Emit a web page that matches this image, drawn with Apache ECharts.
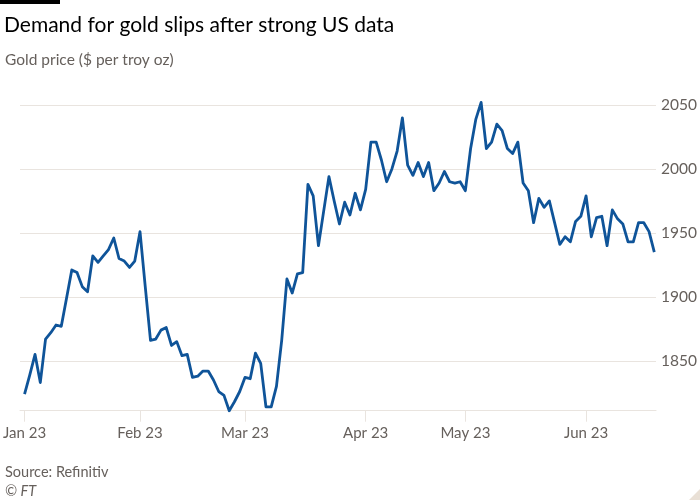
<!DOCTYPE html>
<html>
<head>
<meta charset="utf-8">
<script src="https://cdn.jsdelivr.net/npm/echarts@6/dist/echarts.min.js"></script>
<style>
html,body{margin:0;padding:0;background:#fff;}
#chart{width:700px;height:500px;}
</style>
</head>
<body>
<div id="chart"></div>
<script>
// Trading days (categories)
const dates = [
"2023-01-02","2023-01-03","2023-01-04","2023-01-05","2023-01-06","2023-01-09","2023-01-10","2023-01-11","2023-01-12","2023-01-13","2023-01-16","2023-01-17","2023-01-18","2023-01-19","2023-01-20","2023-01-23","2023-01-24","2023-01-25","2023-01-26","2023-01-27","2023-01-30","2023-01-31",
"2023-02-01","2023-02-02","2023-02-03","2023-02-06","2023-02-07","2023-02-08","2023-02-09","2023-02-10","2023-02-13","2023-02-14","2023-02-15","2023-02-16","2023-02-17","2023-02-20","2023-02-21","2023-02-22","2023-02-23","2023-02-24","2023-02-27","2023-02-28",
"2023-03-01","2023-03-02","2023-03-03","2023-03-06","2023-03-07","2023-03-08","2023-03-09","2023-03-10","2023-03-13","2023-03-14","2023-03-15","2023-03-16","2023-03-17","2023-03-20","2023-03-21","2023-03-22","2023-03-23","2023-03-24","2023-03-27","2023-03-28","2023-03-29","2023-03-30","2023-03-31",
"2023-04-03","2023-04-04","2023-04-05","2023-04-06","2023-04-10","2023-04-11","2023-04-12","2023-04-13","2023-04-14","2023-04-17","2023-04-18","2023-04-19","2023-04-20","2023-04-21","2023-04-24","2023-04-25","2023-04-26","2023-04-27","2023-04-28",
"2023-05-01","2023-05-02","2023-05-03","2023-05-04","2023-05-05","2023-05-08","2023-05-09","2023-05-10","2023-05-11","2023-05-12","2023-05-15","2023-05-16","2023-05-17","2023-05-18","2023-05-19","2023-05-22","2023-05-23","2023-05-24","2023-05-25","2023-05-26","2023-05-29","2023-05-30","2023-05-31",
"2023-06-01","2023-06-02","2023-06-05","2023-06-06","2023-06-07","2023-06-08","2023-06-09","2023-06-12","2023-06-13","2023-06-14","2023-06-15","2023-06-16","2023-06-19","2023-06-20"
];

// Gold price ($ per troy oz)
const goldPrice = [
1824,1839,1855,1833,1867,1872,1878,1877,1899,1921,1919,1908,1904,1932,1927,1932,1937,1946,1930,1928,1923,1928,
1951,1908,1866,1867,1874,1876,1862,1865,1854,1855,1837,1838,1842,1842,1835,1826,1823,1811,1818,1826,
1837,1836,1856,1848,1814,1814,1830,1866,1914,1903,1918,1919,1988,1979,1940,1967,1994,1975,1957,1974,1964,1981,1968,
1984,2021,2021,2007,1990,2000,2014,2040,2003,1995,2005,1994,2005,1983,1989,1998,1990,1989,1990,
1983,2016,2039,2052,2016,2021,2035,2030,2016,2012,2021,1989,1983,1958,1977,1970,1975,1958,1941,1947,1943,1959,1963,
1979,1947,1962,1963,1940,1968,1961,1957,1943,1943,1958,1958,1951,1935
];

// Axis tick labels
const monthLabels = ["Jan 23","Feb 23","Mar 23","Apr 23","May 23","Jun 23"];
const yTickValues = [1850,1900,1950,2000,2050];

const FONT = "Lato, 'Open Sans', sans-serif";
const GRID_COLOR = "#e9e4df";
const TEXT_GREY = "#66605c";

function isMonthStart(i){
  if (i === 0) return true;
  return dates[i].slice(5,7) !== dates[i-1].slice(5,7);
}

const chart = echarts.init(document.getElementById('chart'), null, {renderer:'canvas'});
const option = {
  backgroundColor: '#fff',
  animation: false,
  textStyle: {fontFamily: FONT},
  title: [
    {text: 'Demand for gold slips after strong US data', left: -1, top: 10,
     textStyle: {fontFamily: FONT, fontSize: 21, fontWeight: 'normal', color: '#000'}},
    {text: 'Gold price ($ per troy oz)', left: 0, top: 47,
     textStyle: {fontFamily: FONT, fontSize: 15.5, fontWeight: 'normal', color: TEXT_GREY}},
    {text: 'Source: Refinitiv', left: 0, top: 460,
     textStyle: {fontFamily: FONT, fontSize: 14.5, fontWeight: 'normal', color: TEXT_GREY}},
    {text: '© FT', left: 0, top: 479,
     textStyle: {fontFamily: FONT, fontSize: 14.5, fontWeight: 'normal', fontStyle: 'italic', color: TEXT_GREY}}
  ],
  graphic: [
    {type: 'rect', left: 0, top: 0, shape: {width: 60, height: 4}, style: {fill: '#000'}},
    {type: 'polygon', shape: {points: [[700,489],[700,500],[689,500]]}, style: {fill: '#e9e0d6'}}
  ],
  grid: [
    {left: 20, right: 43, top: 105, bottom: 89.3},
    {left: 24.3, right: 45.7, top: 105, bottom: 89.3}
  ],
  xAxis: [
    {type: 'value', gridIndex: 0, min: 0, max: 1, show: true,
     axisLine: {show: true, lineStyle: {color: GRID_COLOR, width: 1}},
     axisTick: {show: false}, axisLabel: {show: false}, splitLine: {show: false}},
    {type: 'category', gridIndex: 1, data: dates, boundaryGap: false,
     axisLine: {show: false},
     axisTick: {show: true, length: 11, interval: (i) => isMonthStart(i), lineStyle: {color: GRID_COLOR, width: 1}},
     axisLabel: {show: true, interval: (i) => isMonthStart(i), margin: 15,
       fontFamily: FONT, fontSize: 15, color: TEXT_GREY,
       formatter: (v) => monthLabels[parseInt(v.slice(5,7),10) - 1]},
     splitLine: {show: false}}
  ],
  yAxis: [
    {type: 'value', gridIndex: 0, position: 'right', min: 1811, max: 2050, splitNumber: 5,
     axisLine: {show: false}, axisTick: {show: false},
     axisLabel: {show: true, margin: 5, fontFamily: FONT, fontSize: 15.5, color: TEXT_GREY,
       showMinLabel: false,
       formatter: (v) => yTickValues.indexOf(v) >= 0 ? String(v) : ''},
     splitLine: {show: true, lineStyle: {color: GRID_COLOR, width: 1}}},
    {type: 'value', gridIndex: 1, min: 1811, max: 2050, show: false, splitLine: {show: false}}
  ],
  series: [{
    type: 'line', xAxisIndex: 1, yAxisIndex: 1, data: goldPrice,
    showSymbol: false, symbol: 'none', clip: false,
    lineStyle: {color: '#0f5499', width: 2.8, join: 'round'}
  }]
};
chart.setOption(option);
</script>
</body>
</html>
